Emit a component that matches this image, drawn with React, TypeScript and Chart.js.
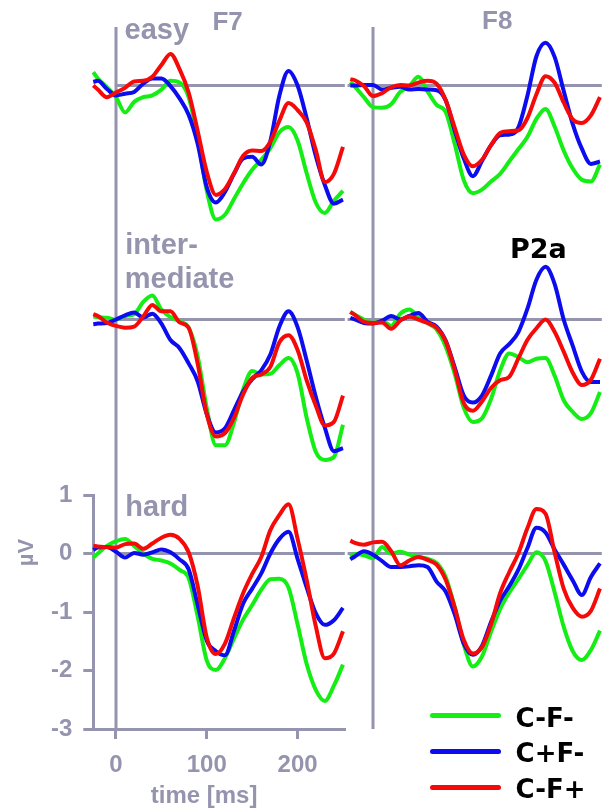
import React, { useEffect, useRef } from "react";
import { Chart, registerables } from "chart.js";

Chart.register(...registerables);

// ---------- data ----------
const times = [-25, -20, -10, 0, 10, 20, 30, 40, 50, 60, 70, 80, 90, 100, 110, 120, 130, 140, 150, 160, 170, 180, 190, 200, 210, 220, 230, 240, 250];

const seriesNames = ["C-F-", "C+F-", "C-F+"];
const seriesColors = ["#14ee14", "#0c0cee", "#f50a0a"];
const electrodes = ["F7", "F8"];
const xTicks = [0, 100, 200];
const yTicks = [-3, -2, -1, 0, 1];
const yRange = [-3, 1];
const xTitle = "time [ms]";
const yTitle = "µV";
const peakLabel = "P2a";

// easy
const easyF7Green = [0.23, 0.12, -0.03, -0.2, -0.46, -0.28, -0.2, -0.17, -0.07, 0.08, 0.05, -0.2, -0.9, -1.8, -2.29, -2.21, -1.94, -1.67, -1.44, -1.27, -1.07, -0.8, -0.71, -0.94, -1.5, -2.0, -2.18, -1.97, -1.8];
const easyF7Blue = [0.06, 0.08, -0.06, -0.17, -0.14, -0.11, 0.03, 0.12, 0.12, -0.01, -0.22, -0.5, -1.0, -1.74, -2.0, -1.82, -1.51, -1.25, -1.22, -1.35, -0.95, -0.17, 0.25, 0.0, -0.56, -1.2, -1.7, -2.02, -1.95];
const easyF7Red = [0.0, -0.07, -0.2, -0.12, -0.04, 0.07, 0.08, 0.15, 0.35, 0.54, 0.28, -0.12, -0.78, -1.48, -1.87, -1.77, -1.5, -1.2, -1.11, -1.12, -0.96, -0.6, -0.3, -0.42, -0.63, -1.1, -1.65, -1.51, -1.05];
const easyF8Green = [0.06, -0.02, -0.2, -0.37, -0.38, -0.32, -0.11, -0.01, 0.15, -0.1, -0.33, -0.45, -1.0, -1.62, -1.84, -1.78, -1.64, -1.51, -1.3, -1.09, -0.88, -0.57, -0.4, -0.7, -1.11, -1.42, -1.61, -1.64, -1.35];
const easyF8Blue = [0, 0, 0.01, 0.01, -0.07, -0.04, -0.02, -0.07, -0.06, -0.07, -0.08, -0.25, -0.77, -1.25, -1.55, -1.29, -1.02, -0.85, -0.84, -0.72, -0.18, 0.5, 0.73, 0.49, -0.09, -0.66, -1.08, -1.34, -1.3];
const easyF8Red = [0.11, 0.09, -0.01, -0.18, -0.13, -0.03, 0.01, 0.0, 0.05, 0.08, 0.03, -0.25, -0.72, -1.18, -1.38, -1.27, -1.02, -0.81, -0.78, -0.77, -0.56, -0.15, 0.16, 0.05, -0.29, -0.58, -0.64, -0.51, -0.2];

// intermediate
const interF7Green = [0.05, 0.04, 0.03, 0.0, 0.06, 0.09, 0.3, 0.41, 0.17, 0.04, -0.03, -0.14, -0.63, -1.52, -2.15, -2.15, -1.76, -1.2, -0.88, -0.94, -0.93, -0.78, -0.66, -0.92, -1.68, -2.26, -2.4, -2.35, -1.8];
const interF7Blue = [-0.08, -0.07, -0.06, 0.0, 0.07, 0.12, 0.03, 0.1, -0.07, -0.35, -0.49, -0.75, -1.06, -1.62, -1.93, -1.86, -1.55, -1.23, -1.02, -0.87, -0.6, -0.12, 0.14, -0.13, -0.7, -1.32, -1.85, -2.25, -2.2];
const interF7Red = [0.09, 0.06, -0.05, -0.11, -0.14, -0.12, 0.05, 0.25, 0.14, 0.14, -0.05, -0.14, -0.76, -1.62, -2.0, -1.94, -1.68, -1.28, -1.0, -0.94, -0.81, -0.39, -0.27, -0.52, -1.04, -1.47, -1.81, -1.75, -1.3];
const interF8Green = [0.13, 0.08, 0.0, -0.06, -0.02, -0.11, 0.1, 0.17, 0.04, -0.06, -0.17, -0.46, -0.93, -1.51, -1.75, -1.69, -1.36, -0.87, -0.58, -0.64, -0.73, -0.67, -0.66, -0.96, -1.38, -1.58, -1.7, -1.6, -1.24];
const interF8Blue = [0.03, 0.0, -0.06, -0.07, -0.02, 0.06, 0.0, 0.06, 0.11, -0.04, -0.12, -0.36, -0.82, -1.3, -1.42, -1.3, -0.96, -0.58, -0.42, -0.22, 0.18, 0.68, 0.9, 0.61, 0.0, -0.45, -0.89, -1.07, -1.07];
const interF8Red = [0.13, 0.08, -0.04, -0.06, -0.05, -0.16, -0.02, 0.05, 0.0, -0.06, -0.14, -0.37, -0.86, -1.43, -1.56, -1.4, -1.17, -1.04, -0.98, -0.67, -0.35, -0.15, 0.0, -0.21, -0.55, -0.91, -1.12, -1.03, -0.67];

// hard
const hardF7Green = [-0.07, 0.0, 0.13, 0.21, 0.25, 0.13, 0.0, -0.09, -0.12, -0.17, -0.28, -0.42, -1.08, -1.83, -1.99, -1.79, -1.45, -1.13, -0.88, -0.62, -0.44, -0.43, -0.58, -1.21, -1.89, -2.33, -2.52, -2.26, -1.9];
const hardF7Blue = [0.06, 0.1, 0.11, 0.03, -0.07, 0.01, -0.02, 0.02, 0.07, 0.02, -0.1, -0.27, -0.88, -1.49, -1.67, -1.74, -1.32, -0.86, -0.6, -0.34, 0.0, 0.25, 0.37, -0.09, -0.58, -1.02, -1.22, -1.14, -0.93];
const hardF7Red = [0.13, 0.12, 0.11, 0.1, 0.16, 0.17, 0.08, 0.17, 0.27, 0.32, 0.25, 0.02, -0.56, -1.44, -1.72, -1.54, -1.1, -0.68, -0.35, -0.06, 0.4, 0.66, 0.84, 0.25, -0.45, -1.24, -1.79, -1.71, -1.33];
const hardF8Green = [-0.06, -0.01, -0.03, -0.08, 0.11, 0.0, 0.03, -0.02, -0.06, -0.09, -0.16, -0.4, -0.92, -1.56, -1.93, -1.76, -1.34, -0.95, -0.67, -0.44, -0.2, 0.02, -0.13, -0.66, -1.25, -1.67, -1.82, -1.65, -1.32];
const hardF8Blue = [-0.1, -0.05, 0.04, -0.02, -0.13, -0.23, -0.23, -0.22, -0.2, -0.23, -0.48, -0.65, -1.04, -1.54, -1.73, -1.58, -1.17, -0.81, -0.56, -0.28, 0.09, 0.44, 0.36, 0.07, -0.19, -0.46, -0.71, -0.4, -0.17];
const hardF8Red = [0.22, 0.18, 0.15, 0.19, 0.2, 0.04, -0.2, -0.12, -0.06, -0.11, -0.19, -0.45, -0.92, -1.48, -1.71, -1.6, -1.21, -0.68, -0.32, 0.0, 0.43, 0.76, 0.68, 0.02, -0.6, -0.93, -1.08, -0.98, -0.6];

// ---------- layout / style ----------
const GRAY = "#9494ae";
const FONT = '"Liberation Sans", Arial, sans-serif';
const BLACK_FONT = '"DejaVu Sans", Verdana, sans-serif';

const COLS = [
  { tMin: -25, tMax: 252, left: 93.3, right: 344.8, zeroFrom: 0 as number | null },
  { tMin: -28, tMax: 252, left: 347.6, right: 601.8, zeroFrom: null as number | null },
];
const ROW_TOPS = [27, 261, 495];
const ROW_H = 234;
const PAD = 12;
const AXIS_TOP_PAD = 32;

const panels = [
  { row: 0, col: 0, series: [easyF7Green, easyF7Blue, easyF7Red] },
  { row: 0, col: 1, series: [easyF8Green, easyF8Blue, easyF8Red] },
  { row: 1, col: 0, series: [interF7Green, interF7Blue, interF7Red] },
  { row: 1, col: 1, series: [interF8Green, interF8Blue, interF8Red] },
  { row: 2, col: 0, series: [hardF7Green, hardF7Blue, hardF7Red] },
  { row: 2, col: 1, series: [hardF8Green, hardF8Blue, hardF8Red] },
];

function refLines(zeroFrom: number | null) {
  return {
    id: "refLines",
    beforeDatasetsDraw(chart: any) {
      const { ctx, chartArea } = chart;
      const x = chart.scales.x;
      const y = chart.scales.y;
      const x0 = x.getPixelForValue(0);
      const y0 = y.getPixelForValue(0);
      const xs = zeroFrom == null ? chartArea.left : x.getPixelForValue(zeroFrom);
      ctx.save();
      ctx.strokeStyle = GRAY;
      ctx.lineWidth = 3;
      ctx.beginPath();
      ctx.moveTo(x0, chartArea.top);
      ctx.lineTo(x0, chartArea.bottom);
      ctx.moveTo(xs, y0);
      ctx.lineTo(chartArea.right, y0);
      ctx.stroke();
      ctx.restore();
    },
  };
}

const axisTitles = {
  id: "axisTitles",
  afterDraw(chart: any) {
    const { ctx, chartArea } = chart;
    const x = chart.scales.x;
    const y = chart.scales.y;
    ctx.save();
    ctx.fillStyle = GRAY;
    ctx.font = `bold 24px ${FONT}`;
    ctx.textAlign = "center";
    ctx.textBaseline = "alphabetic";
    ctx.fillText(xTitle, x.getPixelForValue(97), chartArea.bottom + 74);
    ctx.translate(33, y.getPixelForValue(0) - 1);
    ctx.rotate(-Math.PI / 2);
    ctx.font = `bold 22px ${FONT}`;
    ctx.fillText(yTitle, 0, 0);
    ctx.restore();
  },
};

type PanelProps = { row: number; col: number; series: number[][] };

function Panel({ row, col, series }: PanelProps) {
  const ref = useRef<HTMLCanvasElement | null>(null);
  const c = COLS[col];
  const top = ROW_TOPS[row];
  const bottom = top + ROW_H;
  const axes = row === 2 && col === 0;

  let l: number, t: number, w: number, h: number;
  let padding: any;
  if (axes) {
    l = 0;
    t = top - AXIS_TOP_PAD;
    w = Math.ceil(c.right + PAD);
    h = 808 - t;
    padding = { left: 0, top: AXIS_TOP_PAD, right: w - c.right, bottom: 0 };
  } else {
    l = Math.floor(c.left - PAD);
    t = top - PAD;
    w = Math.min(608, Math.ceil(c.right + PAD)) - l;
    h = bottom + PAD - t;
    padding = { left: c.left - l, top: PAD, right: l + w - c.right, bottom: PAD };
  }

  useEffect(() => {
    const canvas = ref.current;
    if (!canvas) return;
    const tickFont = { family: FONT, size: 24, weight: "bold" as const };
    const xScale: any = {
      type: "linear",
      min: c.tMin,
      max: c.tMax,
      display: axes,
    };
    const yScale: any = {
      type: "linear",
      min: yRange[0],
      max: yRange[1],
      display: axes,
    };
    if (axes) {
      Object.assign(xScale, {
        afterBuildTicks: (s: any) => {
          s.ticks = xTicks.map((v) => ({ value: v }));
        },
        afterFit: (s: any) => {
          s.height = 79;
        },
        grid: { drawOnChartArea: false, drawTicks: true, tickLength: 10, color: GRAY, lineWidth: 3 },
        border: { display: true, color: GRAY, width: 3 },
        ticks: { color: GRAY, font: tickFont, padding: 12, maxRotation: 0, callback: (v: any) => String(v) },
      });
      Object.assign(yScale, {
        afterBuildTicks: (s: any) => {
          s.ticks = yTicks.map((v) => ({ value: v }));
        },
        afterFit: (s: any) => {
          s.width = c.left;
        },
        grid: { drawOnChartArea: false, drawTicks: true, tickLength: 10, color: GRAY, lineWidth: 3 },
        border: { display: true, color: GRAY, width: 3 },
        ticks: { color: GRAY, font: tickFont, padding: 11, callback: (v: any) => String(v) },
      });
    }
    const chart = new Chart(canvas, {
      type: "line",
      data: {
        datasets: series.map((vals, i) => ({
          label: seriesNames[i],
          data: times.map((tt, j) => ({ x: tt, y: vals[j] })),
          borderColor: seriesColors[i],
          backgroundColor: seriesColors[i],
          borderWidth: 4,
          pointRadius: 0,
          fill: false,
          cubicInterpolationMode: "monotone" as const,
          order: 2 - i,
          clip: 14,
        })),
      },
      options: {
        animation: false,
        responsive: false,
        devicePixelRatio: 1,
        events: [],
        layout: { padding },
        plugins: { legend: { display: false }, tooltip: { enabled: false } },
        scales: { x: xScale, y: yScale },
      } as any,
      plugins: axes ? [refLines(c.zeroFrom), axisTitles] : [refLines(c.zeroFrom)],
    });
    return () => chart.destroy();
  }, []);

  return (
    <canvas
      ref={ref}
      width={w}
      height={h}
      style={{ position: "absolute", left: l, top: t, width: w, height: h }}
    />
  );
}

// text placed by baseline (line-height 1 => baseline at ~0.846em)
function Label({ text, left, baseline, size, color, family }: { text: string; left: number; baseline: number; size: number; color: string; family: string }) {
  return (
    <div
      style={{
        position: "absolute",
        left,
        top: baseline - 0.846 * size,
        fontFamily: family,
        fontWeight: "bold",
        fontSize: size,
        lineHeight: `${size}px`,
        color,
        whiteSpace: "pre",
      }}
    >
      {text}
    </div>
  );
}

const legendLineY = [715, 751, 787.5];
const legendBaseY = [727, 762, 798];

export default function App() {
  return (
    <div style={{ position: "fixed", left: 0, top: 0, width: 608, height: 808, background: "#ffffff", overflow: "hidden" }}>
      {panels.map((p) => (
        <Panel key={`${p.row}-${p.col}`} row={p.row} col={p.col} series={p.series} />
      ))}
      <Label text={electrodes[0]} left={212.4} baseline={30} size={26} color={GRAY} family={FONT} />
      <Label text={electrodes[1]} left={482} baseline={29.3} size={26} color={GRAY} family={FONT} />
      <Label text="easy" left={124.5} baseline={40} size={29} color={GRAY} family={FONT} />
      <Label text="inter-" left={125.3} baseline={255} size={29} color={GRAY} family={FONT} />
      <Label text="mediate" left={124.8} baseline={288.3} size={29} color={GRAY} family={FONT} />
      <Label text="hard" left={125.3} baseline={516.7} size={29} color={GRAY} family={FONT} />
      <Label text={peakLabel} left={510} baseline={258.3} size={27} color="#000000" family={BLACK_FONT} />
      {seriesNames.map((name, i) => (
        <React.Fragment key={name}>
          <div
            style={{
              position: "absolute",
              left: 430,
              top: legendLineY[i] - 2.5,
              width: 71,
              height: 5,
              borderRadius: 2.5,
              background: seriesColors[i],
            }}
          />
          <Label text={name} left={515.6} baseline={legendBaseY[i]} size={26} color="#000000" family={BLACK_FONT} />
        </React.Fragment>
      ))}
    </div>
  );
}
